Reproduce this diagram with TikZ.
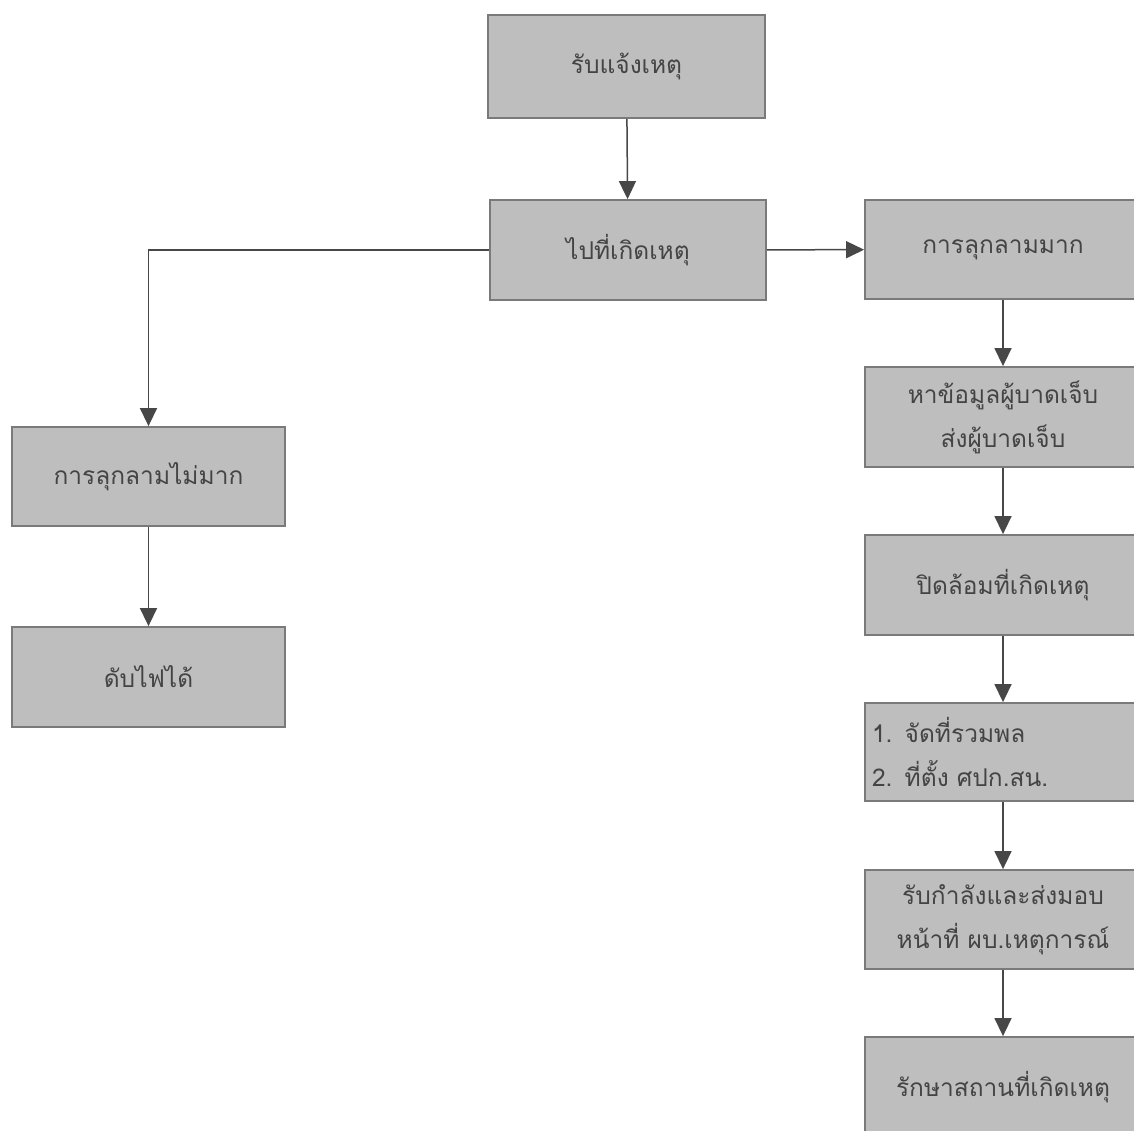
\documentclass[tikz,border=0pt]{standalone}
\usepackage{fontspec}
\newfontfamily\thaifont[Script=Thai]{Loma}
\usetikzlibrary{arrows.meta}
\definecolor{boxfill}{HTML}{BEBEBE}
\definecolor{boxline}{HTML}{7A7A7A}
\definecolor{txt}{HTML}{444444}
\definecolor{arr}{HTML}{474747}
\tikzset{
  stepbox/.style={draw=boxline, line width=1.8pt, fill=boxfill, text=txt,
    font=\thaifont\fontsize{24.5}{44}\selectfont, align=center, inner sep=0pt},
  flow/.style={draw=arr, line width=1.5pt, -{Triangle[length=18pt,width=17pt]}}
}
\begin{document}
\begin{tikzpicture}[x=1pt,y=-1pt]
\fill[white] (0,0) rectangle (1134,1131);
\useasboundingbox (0,0) rectangle (1134,1131);
\node[stepbox, minimum width=277pt, minimum height=103pt] (n1) at (626.5,66.5) {รับแจ้งเหตุ};
\node[stepbox, minimum width=276pt, minimum height=100pt] (n2) at (628,250) {ไปที่เกิดเหตุ};
\node[stepbox, minimum width=276pt, minimum height=99pt] (n3) at (1003,249.5) {การลุกลามมาก};
\node[stepbox, minimum width=273pt, minimum height=99pt] (n4) at (148.5,476.5) {การลุกลามไม่มาก};
\node[stepbox, minimum width=273pt, minimum height=100pt] (n5) at (148.5,677) {ดับไฟได้};
\node[stepbox, minimum width=276pt, minimum height=100pt] (n6) at (1003,417) {หาข้อมูลผู้บาดเจ็บ\\ส่งผู้บาดเจ็บ};
\node[stepbox, minimum width=276pt, minimum height=100pt] (n7) at (1003,585) {ปิดล้อมที่เกิดเหตุ};
\node[stepbox, minimum width=276pt, minimum height=98pt, align=left, text width=262pt] (n8) at (1003,752) {1. จัดที่รวมพล\\2. ที่ตั้ง ศปก.สน.};
\node[stepbox, minimum width=276pt, minimum height=99pt] (n9) at (1003,919.5) {รับกำลังและส่งมอบ\\หน้าที่ ผบ.เหตุการณ์};
\node[stepbox, minimum width=276pt, minimum height=100pt] (n10) at (1003,1087) {รักษาสถานที่เกิดเหตุ};
\draw[flow] (n1) -- (n2);
\draw[flow] (n2) -- (n3);
\draw[flow] (n2.west) -| (n4.north);
\draw[flow] (n4) -- (n5);
\draw[flow] (n3) -- (n6);
\draw[flow] (n6) -- (n7);
\draw[flow] (n7) -- (n8);
\draw[flow] (n8) -- (n9);
\draw[flow] (n9) -- (n10);
\end{tikzpicture}
\end{document}
